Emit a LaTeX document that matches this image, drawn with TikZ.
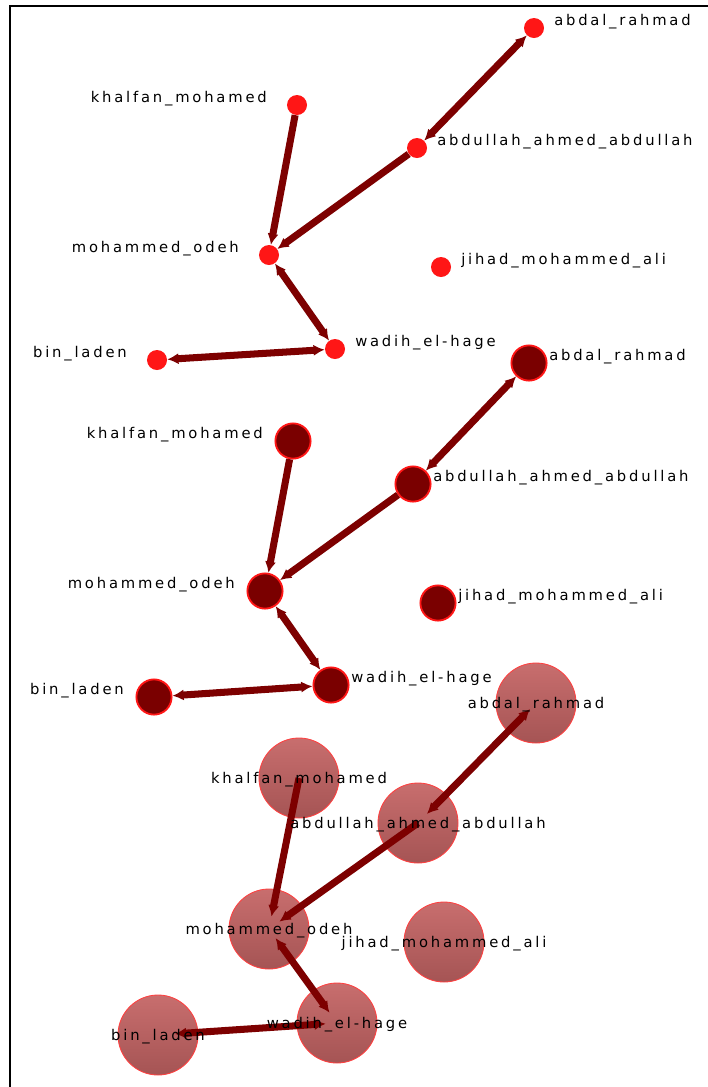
\documentclass[tikz,border=0pt]{standalone}
\usepackage{fontspec}
\setmainfont{DejaVu Sans}[LetterSpace=19]
\usetikzlibrary{arrows.meta,positioning}
\definecolor{linkred}{RGB}{125,0,0}
\definecolor{nodered}{RGB}{255,22,22}
\definecolor{darkred}{RGB}{122,0,0}
\definecolor{paletop}{RGB}{200,110,110}
\definecolor{palebot}{RGB}{165,84,84}

\tikzset{
  actor/.style={circle, fill=nodered, minimum size=0.5cm, inner sep=0pt},
  actorbig/.style={circle, fill=darkred, draw=nodered, line width=1.3pt, minimum size=0.88cm, inner sep=0pt},
  actorpale/.style={circle, top color=paletop, bottom color=palebot, draw=red!75!white, line width=0.6pt, minimum size=2cm, inner sep=0pt},
  lbl/.style={font=\fontsize{10.5}{12}\selectfont, inner sep=0pt, text=black},
  lblr/.style={lbl, right=14.2pt of #1.center, yshift=4.4pt},
  lbll/.style={lbl, left=21.3pt of #1.center, yshift=4.4pt},
  lblc/.style={lbl, yshift=-1.4pt},
  link/.style={draw=linkred, line width=5pt},
  >={Latex[length=8pt,width=8pt]}
}

\begin{document}
\begin{tikzpicture}[x=0.025cm,y=-0.025cm]
  \useasboundingbox (0,0) rectangle (708,1087);
  % frame
  \draw[line width=1.4pt] (10,1087) |- (708,6);

  % first layout: small nodes
  \node[actor] (ar1) at (534,28) {};
  \node[actor] (km1) at (297,105) {};
  \node[actor] (aa1) at (417,148) {};
  \node[actor] (mo1) at (269,255) {};
  \node[actor] (jm1) at (441,267) {};
  \node[actor] (wh1) at (335,349) {};
  \node[actor] (bl1) at (157,360) {};
  \draw[link,<->] (ar1) -- (aa1);
  \draw[link,->] (aa1) -- (mo1);
  \draw[link,->] (km1) -- (mo1);
  \draw[link,<->] (mo1) -- (wh1);
  \draw[link,<->] (wh1) -- (bl1);
  \node[lblr=ar1] (tar1) {abdal\_rahmad};
  \node[lbll=km1] (tkm1) {khalfan\_mohamed};
  \node[lblr=aa1] (taa1) {abdullah\_ahmed\_abdullah};
  \node[lbll=mo1] (tmo1) {mohammed\_odeh};
  \node[lblr=jm1] (tjm1) {jihad\_mohammed\_ali};
  \node[lblr=wh1] (twh1) {wadih\_el-hage};
  \node[lbll=bl1] (tbl1) {bin\_laden};

  % second layout: dark nodes
  \node[actorbig] (ar2) at (529,363) {};
  \node[actorbig] (km2) at (293,441) {};
  \node[actorbig] (aa2) at (413,484) {};
  \node[actorbig] (mo2) at (265,591) {};
  \node[actorbig] (jm2) at (438,603) {};
  \node[actorbig] (wh2) at (331,685) {};
  \node[actorbig] (bl2) at (154,697) {};
  \draw[link,<->] (ar2) -- (aa2);
  \draw[link,->] (aa2) -- (mo2);
  \draw[link,->] (km2) -- (mo2);
  \draw[link,<->] (mo2) -- (wh2);
  \draw[link,<->] (wh2) -- (bl2);
  \node[lblr=ar2] (tar2) {abdal\_rahmad};
  \node[lbll=km2] (tkm2) {khalfan\_mohamed};
  \node[lblr=aa2] (taa2) {abdullah\_ahmed\_abdullah};
  \node[lbll=mo2] (tmo2) {mohammed\_odeh};
  \node[lblr=jm2] (tjm2) {jihad\_mohammed\_ali};
  \node[lblr=wh2] (twh2) {wadih\_el-hage};
  \node[lbll=bl2] (tbl2) {bin\_laden};

  % third layout: large pale nodes, names centred
  \node[actorpale] (ar3) at (536,703) {};
  \node[actorpale] (km3) at (299,778) {};
  \node[actorpale] (aa3) at (418,823) {};
  \node[actorpale] (mo3) at (269,929) {};
  \node[actorpale] (jm3) at (444,942) {};
  \node[actorpale] (wh3) at (337,1023) {};
  \node[actorpale] (bl3) at (158,1035) {};
  \draw[link,<->,shorten <=6pt,shorten >=9pt] (ar3.center) -- (aa3.center);
  \draw[link,->,shorten >=9pt] (aa3.center) -- (mo3.center);
  \draw[link,->,shorten >=9pt] (km3.center) -- (mo3.center);
  \draw[link,<->,shorten <=8pt,shorten >=9pt] (mo3.center) -- (wh3.center);
  \draw[link,<->,shorten <=8pt,shorten >=12pt] (wh3.center) -- (bl3.center);
  \node[lblc] (tar3) at (ar3) {abdal\_rahmad};
  \node[lblc] (tkm3) at (km3) {khalfan\_mohamed};
  \node[lblc] (taa3) at (aa3) {abdullah\_ahmed\_abdullah};
  \node[lblc] (tmo3) at (mo3) {mohammed\_odeh};
  \node[lblc] (tjm3) at (jm3) {jihad\_mohammed\_ali};
  \node[lblc] (twh3) at (wh3) {wadih\_el-hage};
  \node[lblc] (tbl3) at (bl3) {bin\_laden};
\end{tikzpicture}
\end{document}
